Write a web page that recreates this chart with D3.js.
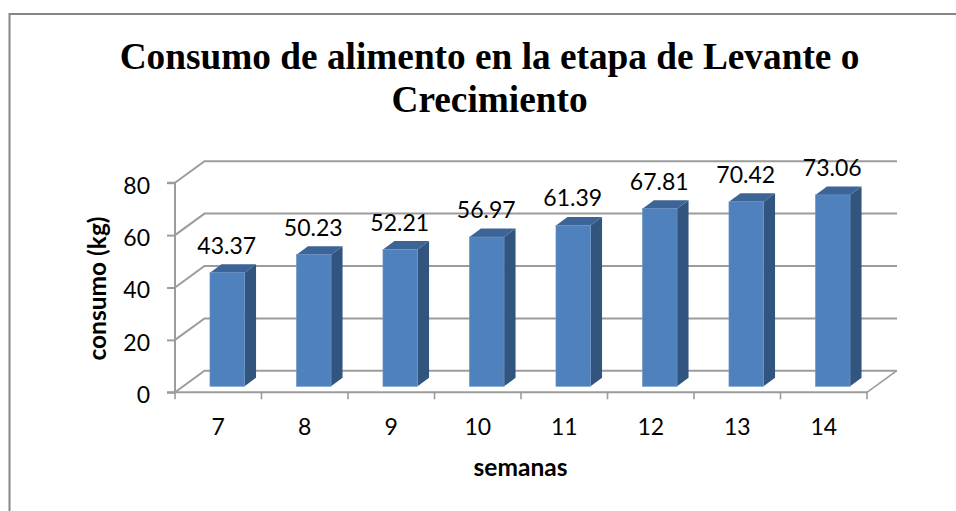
<!DOCTYPE html>
<html><head><meta charset="utf-8">
<style>html,body{margin:0;padding:0;background:#fff}svg{display:block}</style>
<script src="https://cdn.jsdelivr.net/npm/d3@7"></script></head>
<body><svg id="c" width="956" height="511"></svg>
<script>
const categories=["7","8","9","10","11","12","13","14"];
const values=[43.37,50.23,52.21,56.97,61.39,67.81,70.42,73.06];
const labels=["43.37","50.23","52.21","56.97","61.39","67.81","70.42","73.06"];
const yTicks=[0,20,40,60,80];
const titleLines=["Consumo de alimento en la etapa de Levante o","Crecimiento"];
const xTitle="semanas", yTitle="consumo (kg)";

const svg=d3.select("#c");
const sans="Lato, 'Open Sans', sans-serif";
const dx=29.5, dy=-21.5, barDx=11.5, barDy=-8.5, baseY=-6;
const x=d3.scaleBand().domain(categories).range([184,876]).paddingInner(0.6).paddingOuter(0.3);
const xOuter=d3.scaleBand().domain(categories).range([175,867]);
const y=d3.scaleLinear().domain([0,80]).range([392.3,182.7]);

svg.append("path").attr("d","M9.5,511V14H956").attr("fill","none").attr("stroke","#868686").attr("stroke-width",2);

const grid="#9c9c9c";
const g=svg.append("g");
yTicks.forEach(t=>{
  g.append("path").attr("d",`M175,${y(t)}L${175+dx},${y(t)+dy}H${867+dx+0.5}`).attr("fill","none").attr("stroke",grid).attr("stroke-width",2);
});
g.append("path").attr("d",`M867,${y(0)}L${867+dx},${y(0)+dy}`).attr("fill","none").attr("stroke",grid).attr("stroke-width",1.6);

// axes
const yAxis=d3.axisLeft(y).tickValues(yTicks).tickSize(8).tickPadding(17);
const ya=svg.append("g").attr("transform","translate(175,0)").call(yAxis);
const xAxis=d3.axisBottom(xOuter).tickSize(0).tickPadding(26.4);
const xa=svg.append("g").attr("transform",`translate(0,${y(0)})`).call(xAxis);
svg.selectAll(".tick text").attr("font-family",sans).attr("font-size",23).attr("fill","#000");
ya.selectAll(".tick text").attr("dy","0.45em");
ya.selectAll(".tick line").attr("stroke",grid).attr("stroke-width",2);
ya.select(".domain").attr("stroke",grid).attr("stroke-width",2).attr("d",`M-8,${y(80)}H0V${y(0)}H-8`);
xa.select(".domain").attr("stroke",grid).attr("stroke-width",2).attr("d","M175,0H867");
xa.selectAll(".xt").data(d3.range(9)).enter().append("line").attr("class","xt")
  .attr("x1",i=>175+i*xOuter.step()).attr("x2",i=>175+i*xOuter.step()).attr("y1",0).attr("y2",7)
  .attr("stroke",grid).attr("stroke-width",1.6);

// bars
const bars=svg.append("g").selectAll("g").data(values).enter().append("g");
const bx=(d,i)=>x(categories[i]);
const by=d=>y(d)+baseY, b0=y(0)+baseY;
bars.append("path").attr("fill","#325580").attr("d",(d,i)=>{const X=bx(d,i)+x.bandwidth();
  return `M${X},${by(d)}l${barDx},${barDy}V${b0+barDy}l${-barDx},${-barDy}Z`;});
bars.append("path").attr("fill","#3c6496").attr("d",(d,i)=>{const X=bx(d,i),w=x.bandwidth();
  return `M${X},${by(d)}l${barDx},${barDy}h${w}l${-barDx},${-barDy}Z`;});
bars.append("rect").attr("x",bx).attr("y",by).attr("width",x.bandwidth()).attr("height",d=>b0-by(d))
  .attr("fill","#4f81bd").attr("stroke","#6a96c9").attr("stroke-width",0.6);
bars.append("text").attr("x",(d,i)=>bx(d,i)+x.bandwidth()/2-0.5).attr("y",d=>by(d)-19)
  .attr("text-anchor","middle").attr("font-family",sans).attr("font-size",23).attr("fill","#000")
  .text((d,i)=>labels[i]);

// titles
svg.append("text").attr("text-anchor","middle").attr("font-family","'Liberation Serif',serif").attr("font-weight","bold").attr("font-size",37.3).attr("fill","#000")
  .selectAll("tspan").data(titleLines).enter().append("tspan").attr("x",489.5).attr("y",(d,i)=>69+i*43.2).text(d=>d);
svg.append("text").attr("x",520.5).attr("y",476).attr("text-anchor","middle").attr("font-family",sans).attr("font-weight","bold").attr("font-size",24.5).text(xTitle);
svg.append("text").attr("transform","translate(106,288.5) rotate(-90)").attr("text-anchor","middle").attr("font-family",sans).attr("font-weight","bold").attr("font-size",24.5).text(yTitle);
</script></body></html>
